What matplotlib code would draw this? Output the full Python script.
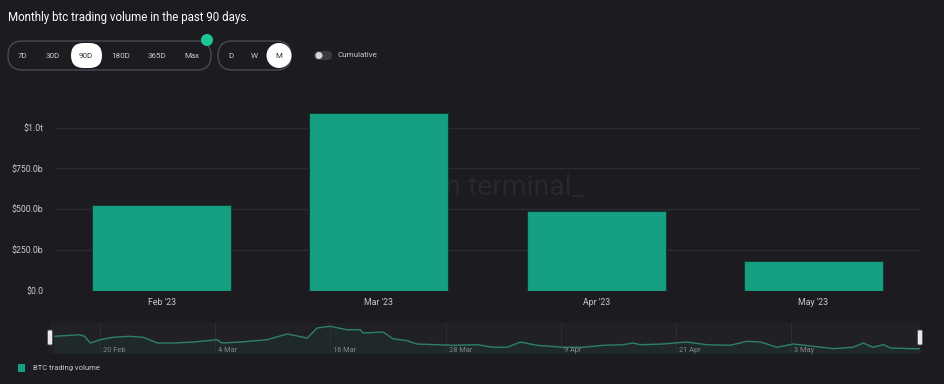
import numpy as np
import matplotlib
matplotlib.use("Agg")
from matplotlib import pyplot as plt
from matplotlib.patches import FancyBboxPatch, Circle, Rectangle

# monthly BTC trading volume, $ billions
months = ["Feb '23", "Mar '23", "Apr '23", "May '23"]
volume = [523, 1087, 488, 182]
y_ticks = [0, 250, 500, 750, 1000]
y_labels = ["$0.0", "$250.0b", "$500.0b", "$750.0b", "$1.0t"]

# navigator: daily volume (days since 15 Feb)
nav_day = [0.3, 2.9, 3.4, 4.0, 5.0, 6.4, 8.1, 9.5, 11.0, 12.6, 14.7, 17.2, 17.7, 19.6,
           22.4, 24.5, 26.6, 27.6, 29.0, 30.7, 32.1, 32.4, 34.5, 35.5, 37.0, 38.0, 40.1,
           41.8, 44.3, 45.9, 47.4, 48.8, 50.5, 53.2, 55.3, 57.4, 59.5, 60.5, 61.3, 63.6,
           66.1, 68.2, 70.6, 72.4, 73.8, 75.5, 77.2, 79.3, 81.4, 83.4, 84.5, 85.5, 86.6,
           87.3, 89.7, 90.4]
nav_vol = [29.3, 31.7, 29.3, 19.1, 24.1, 27.8, 29.3, 27.8, 19.1, 19.1, 20.6, 24.1, 19.1,
           20.6, 24.1, 32.8, 26.7, 41.9, 44.5, 39.3, 39.3, 34.3, 35.8, 25.7, 22.6, 17.6,
           16.5, 15.6, 16.5, 12.6, 12.6, 20.6, 15.6, 12.6, 12.6, 15.6, 16.5, 19.1, 16.5,
           17.6, 20.6, 16.5, 15.6, 21.7, 20.6, 12.6, 17.6, 14.1, 10.5, 12.6, 19.1, 12.6,
           16.5, 11.5, 10.5, 10.5]
nav_tick_day = [5, 17, 29, 41, 53, 65, 77]
nav_tick_lab = ["20 Feb", "4 Mar", "16 Mar", "28 Mar", "9 Apr", "21 Apr", "3 May"]

BG = "#1c1b20"
GREEN = "#16a083"
TXT = "#c9c9cc"
plt.rcParams["font.family"] = ["Roboto", "DejaVu Sans"]

fig = plt.figure(figsize=(9.44, 3.84), dpi=100, facecolor=BG)
W, H = 944, 384

# overlay in pixel coords for the UI bits
ui = fig.add_axes([0, 0, 1, 1], zorder=0)
ui.set_xlim(0, W)
ui.set_ylim(H, 0)
ui.axis("off")
ui.patch.set_alpha(0)

ui.text(8, 17, "Monthly btc trading volume in the past 90 days.", color="white",
        fontsize=8.3, va="center", ha="left")

def pill(x0, x1, y0, y1):
    r = (y1 - y0) / 2
    ui.add_patch(FancyBboxPatch((x0, y0), x1 - x0, y1 - y0,
                                boxstyle=f"round,pad=0,rounding_size={r}",
                                fc="none", ec="#4b4a50", lw=1.0))

pill(8, 211, 41, 70)
pill(218, 291, 41, 70)
ui.add_patch(FancyBboxPatch((71, 43), 31, 25, boxstyle="round,pad=0,rounding_size=12.5",
                            fc="white", ec="none"))
ui.add_patch(Circle((279, 55.5), 12.5, fc="white", ec="none"))
for x, lab in zip([23, 53, 86, 121, 157, 192], ["7D", "30D", "90D", "180D", "365D", "Max"]):
    ui.text(x, 56, lab, fontsize=5.8, ha="center", va="center",
            color="#333" if lab == "90D" else TXT)
for x, lab in zip([231, 254, 279], ["D", "W", "M"]):
    ui.text(x, 56, lab, fontsize=5.8, ha="center", va="center",
            color="#333" if lab == "M" else TXT)
ui.add_patch(Circle((207, 40), 6, fc="#1dc497", ec="none"))
ui.add_patch(FancyBboxPatch((314, 51), 18, 9, boxstyle="round,pad=0,rounding_size=4.5",
                            fc="#3b3a40", ec="none"))
ui.add_patch(Circle((319, 55.5), 3.5, fc="#d8d8d8", ec="none"))
ui.text(337, 55, "Cumulative", fontsize=5.8, color=TXT, va="center", ha="left")

# legend
ui.add_patch(Rectangle((18, 364), 7, 8, fc=GREEN, ec="none"))
ui.text(33, 368, "BTC trading volume", fontsize=5.5, color=TXT, va="center", ha="left")

# main bar chart
ax = fig.add_axes([56 / W, (H - 290.7) / H, 864 / W, (290.7 - 94.9) / H], zorder=1)
ax.set_facecolor(BG)
x = np.arange(len(months))
ax.bar(x, volume, width=0.64, color=GREEN, edgecolor="#113a31", lw=0.8, zorder=3)
ax.set_xlim(-0.486, 3.49)
ax.set_ylim(0, 1200)
ax.set_yticks(y_ticks)
ax.set_yticklabels(y_labels)
ax.set_xticks(x)
ax.set_xticklabels(months)
ax.tick_params(length=0, labelsize=6.3, colors=TXT)
ax.tick_params(axis="y", pad=9)
ax.tick_params(axis="x", pad=5)
ax.grid(axis="y", color="#2c2b31", lw=1, zorder=0)
for s in ax.spines.values():
    s.set_visible(False)
ax.text(0.612, 0.489, "token terminal_", transform=ax.transAxes, fontsize=20.5,
        color="#29282e", ha="right", va="baseline", zorder=1)

# navigator
nav = fig.add_axes([50 / W, (H - 353) / H, 870 / W, 30 / H], zorder=1)
nav.set_facecolor("#212025")
nav.plot(nav_day, nav_vol, color="#2f7f69", lw=1.0)
nav.fill_between(nav_day, nav_vol, 0, color="#1e3a33", alpha=0.35)
nav.set_xlim(-0.2, 90.4)
nav.set_ylim(3.9, 49.5)
for d, lab in zip(nav_tick_day, nav_tick_lab):
    nav.axvline(d, color="#2d2c32", lw=0.8, zorder=0)
    nav.text(d + 0.3, 8, lab, fontsize=5.3, color="#85858a", ha="left", va="center")
nav.set_xticks([])
nav.set_yticks([])
for s in nav.spines.values():
    s.set_visible(False)
for hx in [50, 920]:
    ui.add_patch(FancyBboxPatch((hx - 2.5, 330), 5, 15, boxstyle="round,pad=0,rounding_size=1.5",
                                fc="#e8e8e8", ec="#555", lw=0.6, zorder=5))
ui.set_zorder(2)

fig.savefig("out.png", dpi=100, facecolor=BG)
